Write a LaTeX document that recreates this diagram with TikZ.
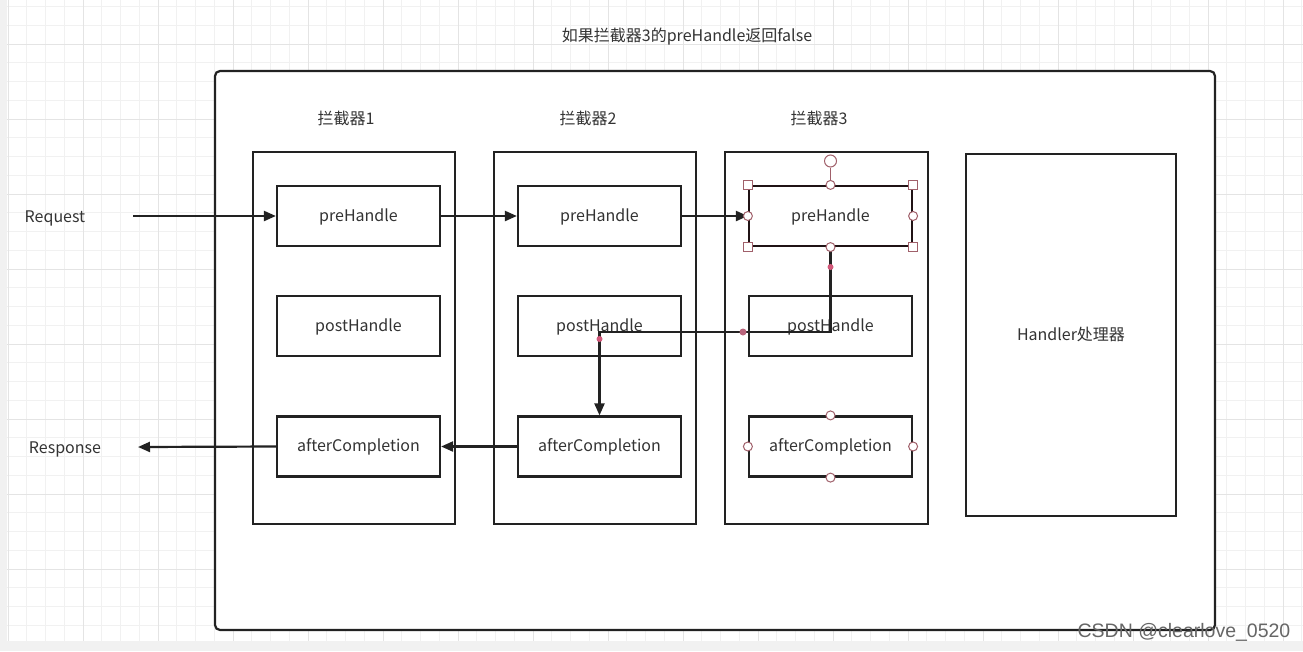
\documentclass[tikz,border=0pt]{standalone}
\usepackage{fontspec}
\setmainfont{Noto Sans CJK SC}
\newfontfamily\markfont{Liberation Sans}
\usetikzlibrary{arrows.meta}
\definecolor{gridminor}{HTML}{F1F1F1}
\definecolor{gridmajor}{HTML}{E4E4E4}
\definecolor{ink}{HTML}{222222}
\definecolor{txt}{HTML}{333333}
\definecolor{handle}{HTML}{A0606A}
\definecolor{dot}{HTML}{D2587A}

\begin{document}
\begin{tikzpicture}[x=1pt,y=-1pt,
  font=\fontsize{16}{19}\selectfont,
  box/.style={draw=ink, line width=2.2pt, fill=white, minimum width=163pt,
    minimum height=60pt, inner sep=0pt, text=txt, text height=11.5pt,
    text depth=1.5pt},
  group/.style={draw=ink, line width=2.2pt, minimum width=202pt,
    minimum height=372pt, inner sep=0pt},
  label/.style={text=txt, inner sep=0pt},
  arr/.style={draw=ink, line width=2.2pt, -{Triangle[length=12pt,width=10pt]}},
  sqhandle/.style={draw=handle, fill=white, line width=1pt, minimum size=9pt,
    inner sep=0pt},
  cihandle/.style={draw=handle, fill=white, line width=1pt, circle,
    minimum size=9pt, inner sep=0pt}]
\useasboundingbox (0,0) rectangle (1303,651);

% background grid
\fill[white] (0,0) rectangle (1303,651);
\foreach \k in {0,...,69}
  \draw[gridminor, line width=0.8pt] (8+18.75*\k,0) -- (8+18.75*\k,651);
\foreach \k in {0,...,34}
  \draw[gridminor, line width=0.8pt] (0,6.5+18.75*\k) -- (1303,6.5+18.75*\k);
\foreach \k in {0,...,17}
  \draw[gridmajor, line width=1pt] (8+75*\k,0) -- (8+75*\k,651);
\foreach \k in {0,...,8}
  \draw[gridmajor, line width=1pt] (0,44+75*\k) -- (1303,44+75*\k);
\fill[gridminor] (0,0) rectangle (7,651);
\fill[gridminor] (0,641) rectangle (1303,651);

% outer frame
\draw[ink, line width=2.2pt, fill=white, rounded corners=5pt] (215,71) rectangle (1215,630);
\node[label] (title) at (687,37) {如果拦截器3的preHandle返回false};

% interceptors
\node[group] (grp1) at (354,338) {};
\node[group] (grp2) at (595,338) {};
\node[group, minimum width=203pt] (grp3) at (826.5,338) {};
\node[label] (name1) at (346,118) {拦截器1};
\node[label] (name2) at (588,118) {拦截器2};
\node[label] (name3) at (819,118) {拦截器3};

\node[box] (pre1) at (358.5,216) {preHandle};
\node[box] (post1) at (358.5,326) {postHandle};
\node[box] (after1) at (358.5,446.5) {afterCompletion};
\node[box] (pre2) at (599.5,216) {preHandle};
\node[box] (post2) at (599.5,326) {postHandle};
\node[box] (after2) at (599.5,446.5) {afterCompletion};
\node[box, draw=black!80!handle] (pre3) at (830.5,216) {preHandle};
\node[box] (post3) at (830.5,326) {postHandle};
\node[box] (after3) at (830.5,446.5) {afterCompletion};

% handler
\node[draw=ink, line width=2.2pt, minimum width=210pt, minimum height=362pt,
  inner sep=0pt, text=txt, text height=11.5pt, text depth=1.5pt] (handler)
  at (1071,335) {Handler处理器};

% request / response
\node[label] (request) at (55,218) {Request};
\node[label] (response) at (65,449) {Response};
\coordinate (reqstart) at (133,216);
\coordinate (respend) at (138,447);
\coordinate (bend) at (599.5,332);

\draw[arr] (reqstart) -- (pre1.west);
\draw[arr] (pre1.east) -- (pre2.west);
\draw[arr] (pre2.east) -- (pre3.west);
\draw[arr] (pre3.south) |- (bend) -- (after2.north);
\draw[arr] (after2.west) -- (after1.east);
\draw[arr] (after1.west) -- (respend);

% selection handles
\node[cihandle, minimum size=12pt] (rot) at (830.5,161) {};
\draw[handle, line width=1pt] (rot.south) -- (pre3.north);
\foreach \a in {north west,north east,south west,south east}
  \node[sqhandle] at (pre3.\a) {};
\foreach \a in {north,south,east,west}
  \node[cihandle] at (pre3.\a) {};
\foreach \a in {north,south,east,west}
  \node[cihandle] at (after3.\a) {};
\fill[dot] (830.5,267) circle (3pt);
\fill[dot] (599.5,339) circle (3pt);
\fill[dot!70!gray] (743,332) circle (3.5pt);

% watermark
\node[text=black!60, font=\markfont\fontsize{19.5}{22}\selectfont, inner sep=0pt]
  (mark) at (1184,632) {CSDN @clearlove\_0520};
\end{tikzpicture}
\end{document}
